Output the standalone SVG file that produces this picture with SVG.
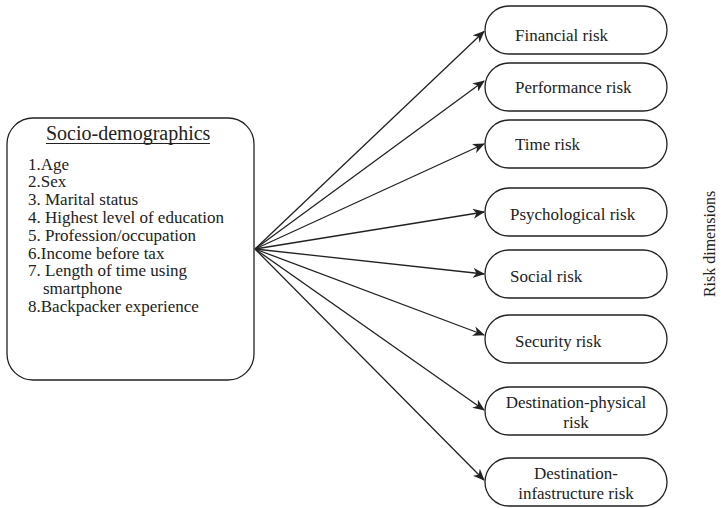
<svg xmlns="http://www.w3.org/2000/svg" width="721" height="508" viewBox="0 0 721 508">
<style>
  .box{fill:#fff;stroke:#222;stroke-width:1.3}
  .t{font-family:"Liberation Serif","Times New Roman",serif;fill:#222;font-size:17px}
  .c{text-anchor:middle}
  .con{stroke:#222;stroke-width:1.3;fill:none;marker-end:url(#ah)}
</style>
<defs>
  <marker id="ah" viewBox="0 0 12 10" refX="11" refY="5" markerWidth="12" markerHeight="10" markerUnits="userSpaceOnUse" orient="auto">
    <path d="M0,0 L12,5 L0,10 L3.5,5 z" fill="#222"/>
  </marker>
</defs>
<rect width="721" height="508" fill="#fff"/>
<g id="connectors">
  <line class="con" x1="255" y1="249" x2="484" y2="31.5"/>
  <line class="con" x1="255" y1="249" x2="484" y2="81"/>
  <line class="con" x1="255" y1="249" x2="484" y2="144"/>
  <line class="con" x1="255" y1="249" x2="484" y2="212"/>
  <line class="con" x1="255" y1="249" x2="484" y2="274"/>
  <line class="con" x1="255" y1="249" x2="484" y2="335"/>
  <line class="con" x1="255" y1="249" x2="484" y2="410"/>
  <line class="con" x1="255" y1="249" x2="484" y2="480"/>
</g>
<g id="socio">
  <rect class="box" x="7" y="118" width="247" height="262" rx="26"/>
  <text class="t" x="46" y="140" style="font-size:20px">Socio-demographics</text>
  <line x1="46" y1="143.5" x2="210" y2="143.5" stroke="#222" stroke-width="1"/>
  <text class="t" x="28" y="169.5">1.Age</text>
  <text class="t" x="28" y="187.3">2.Sex</text>
  <text class="t" x="28" y="205.1">3. Marital status</text>
  <text class="t" x="28" y="222.9">4. Highest level of education</text>
  <text class="t" x="28" y="240.7">5. Profession/occupation</text>
  <text class="t" x="28" y="258.5">6.Income before tax</text>
  <text class="t" x="28" y="276.3">7. Length of time using</text>
  <text class="t" x="43" y="294.1">smartphone</text>
  <text class="t" x="28" y="311.9">8.Backpacker experience</text>
</g>
<g id="financial">
  <rect class="box" x="485" y="6" width="182" height="48" rx="24"/>
  <text class="t" x="515" y="40.5">Financial risk</text>
</g>
<g id="performance">
  <rect class="box" x="485" y="63" width="182" height="48" rx="24"/>
  <text class="t" x="515" y="92.5">Performance risk</text>
</g>
<g id="time">
  <rect class="box" x="485" y="120" width="182" height="48" rx="24"/>
  <text class="t" x="515" y="150">Time risk</text>
</g>
<g id="psychological">
  <rect class="box" x="485" y="188" width="182" height="48" rx="24"/>
  <text class="t" x="510" y="220">Psychological risk</text>
</g>
<g id="social">
  <rect class="box" x="485" y="250" width="182" height="48" rx="24"/>
  <text class="t" x="510" y="281.5">Social risk</text>
</g>
<g id="security">
  <rect class="box" x="485" y="315" width="182" height="48" rx="24"/>
  <text class="t" x="515" y="346.5">Security risk</text>
</g>
<g id="destination-physical">
  <rect class="box" x="485" y="387" width="182" height="48" rx="24"/>
  <text class="t c" x="576" y="408">Destination-physical</text>
  <text class="t c" x="576" y="428">risk</text>
</g>
<g id="destination-infrastructure">
  <rect class="box" x="485" y="458" width="182" height="48" rx="24"/>
  <text class="t c" x="576" y="479">Destination-</text>
  <text class="t c" x="576" y="499">infastructure risk</text>
</g>
<g id="risk-dimensions">
  <text class="t c" transform="translate(715 244) rotate(-90)" style="font-size:16px">Risk dimensions</text>
</g>
</svg>
